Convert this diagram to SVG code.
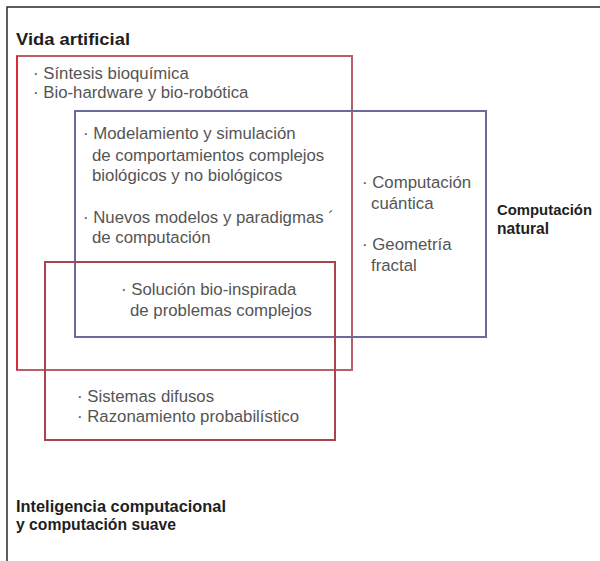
<svg xmlns="http://www.w3.org/2000/svg" width="600" height="561" viewBox="0 0 600 561">
<style>
.t{font-family:"Liberation Sans",Arial,sans-serif;font-size:16.8px;fill:#555555}
.h{font-family:"Liberation Sans",Arial,sans-serif;font-weight:bold;font-size:17px;fill:#1e1e1e}
.hs{font-size:15.5px}
.box{fill:none;stroke-width:2}
</style>
<rect width="600" height="561" fill="#ffffff"/>
<g id="frame" stroke="#2a2a2a" stroke-width="1.5" fill="none">
<path d="M7 561 V7 H600"/>
</g>
<g id="vida-artificial">
<rect class="box" x="17" y="56" width="335" height="314" stroke="#b8606a"/>
<line x1="17" y1="56" x2="17" y2="370" stroke="#e02a33" stroke-width="2"/>
<text class="h" x="16" y="45" textLength="114" lengthAdjust="spacingAndGlyphs">Vida artificial</text>
<text class="t" x="33" y="79">· Síntesis bioquímica</text>
<text class="t" x="33" y="98">· Bio-hardware y bio-robótica</text>
</g>
<g id="computacion-natural">
<rect class="box" x="75" y="111" width="411" height="226" stroke="#6c6a9a"/>
<text class="h hs" x="497" y="215" textLength="95" lengthAdjust="spacingAndGlyphs">Computación</text>
<text class="h" x="497" y="234" textLength="52" lengthAdjust="spacingAndGlyphs">natural</text>
<text class="t" x="83" y="139">· Modelamiento y simulación</text>
<text class="t" x="92" y="160.5">de comportamientos complejos</text>
<text class="t" x="92" y="181">biológicos y no biológicos</text>
<text class="t" x="83" y="223">· Nuevos modelos y paradigmas ´</text>
<text class="t" x="92" y="243">de computación</text>
<text class="t" x="362" y="188">· Computación</text>
<text class="t" x="371" y="209">cuántica</text>
<text class="t" x="362" y="250">· Geometría</text>
<text class="t" x="371" y="271">fractal</text>
</g>
<g id="inteligencia-computacional">
<rect class="box" x="45" y="262" width="290" height="178" stroke="#a8444c"/>
<text class="t" x="121" y="295">· Solución bio-inspirada</text>
<text class="t" x="130" y="316">de problemas complejos</text>
<text class="t" x="77" y="402">· Sistemas difusos</text>
<text class="t" x="77" y="422">· Razonamiento probabilístico</text>
<text class="h" x="16" y="512" textLength="210" lengthAdjust="spacingAndGlyphs">Inteligencia computacional</text>
<text class="h" x="16" y="530" textLength="160" lengthAdjust="spacingAndGlyphs">y computación suave</text>
</g>
</svg>
